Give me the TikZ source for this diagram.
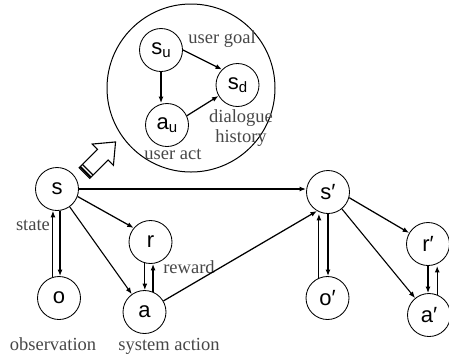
\documentclass[tikz,border=0pt]{standalone}
\usepackage{fontspec}
\setmainfont{Liberation Serif}
\newfontfamily\varfont{Liberation Sans}
\usetikzlibrary{arrows.meta,positioning}

\newcommand{\vsub}[2]{#1\raisebox{-3pt}{\fontsize{15}{15}\selectfont #2}}

\begin{document}
\begin{tikzpicture}[x=1pt, y=-1pt, >={Latex[length=6.5pt, width=5pt]},
  var/.style={draw, circle, line width=0.85pt, minimum size=43pt, inner sep=0pt,
    font=\varfont\fontsize{22}{22}\selectfont},
  lbl/.style={text=black!72, font=\fontsize{18.5}{20}\selectfont, inner sep=0pt},
  lnk/.style={->, line width=1.25pt},
  every node/.style={align=center}]
\useasboundingbox (0,0) rectangle (449,357);
% zoom into the state
\node[draw, circle, line width=1pt, minimum size=168pt] (inside) at (191,88) {};
\node[var] (su) at (161,50) {\vsub{s}{u}};
\node[var] (sd) at (237.5,85) {\vsub{s}{d}};
\node[var] (au) at (167,125) {\vsub{a}{u}};
\node[lbl] (goal) at (222,39) {user goal};
\node[lbl] (hist) at (241,128) {dialogue\\history};
\node[lbl] (uact) at (173,154.5) {user act};
\draw[lnk] (su.east) -- (sd.north west);
\draw[lnk] (su.south) -- (su.south |- au.north);
\draw[lnk] (au.25) -- (sd.210);
% hollow arrow
\begin{scope}[shift={(100,157.5)}, rotate=45]
\draw[line width=1.1pt, fill=white] (-22,-7.5) -- (4,-7.5) -- (4,-15) -- (22,0)
  -- (4,15) -- (4,7.5) -- (-22,7.5) -- cycle;
\draw[line width=1.8pt] (-20.5,-7.5) -- (-20.5,7.5);
\draw[line width=1.2pt] (-17.3,-7.5) -- (-17.3,7.5);
\end{scope}
% time slice t
\node[var] (s) at (57,189) {s};
\node[var] (o) at (59,298) {o};
\node[var] (r) at (150.5,242) {r};
\node[var] (a) at (144.5,312) {a};
\node[lbl] (state) at (33,225) {state};
\node[lbl] (rew) at (189,267) {reward};
\node[lbl] (obs) at (53,344) {observation};
\node[lbl] (sact) at (169,346) {system action};
% time slice t+1
\node[var] (s2) at (328,192) {s′};
\node[var] (o2) at (327.5,298) {o′};
\node[var] (r2) at (428,244) {r′};
\node[var] (a2) at (429,315) {a′};
\draw[lnk, line width=1.8pt] (s.east) -- (s.east -| s2.west);
\draw[lnk] (s.-20) -- (r.140);
\draw[lnk, line width=1.1pt] (s) -- (a);
\draw[lnk, line width=1.6pt] (s.-82) -- (s.-82 |- o.north);
\draw[lnk, line width=1pt] (o.106) -- (o.106 |- s.south);
\draw[lnk] (r.-105) -- (r.-105 |- a.north);
\draw[lnk] (a.67) -- (a.67 |- r.south);
\draw[lnk] (a) -- (s2.-120);
\draw[lnk, line width=1.6pt] (s2.south) -- (s2.south |- o2.north);
\draw[lnk, line width=1pt] (o2.113) -- (o2.113 |- s2.south);
\draw[lnk] (s2.-15) -- (r2);
\draw[lnk, line width=1.1pt] (s2) -- (a2);
\draw[lnk] (r2.south) -- (r2.south |- a2.north);
\draw[lnk] (a2.68) -- (a2.68 |- r2.south);
\end{tikzpicture}
\end{document}
